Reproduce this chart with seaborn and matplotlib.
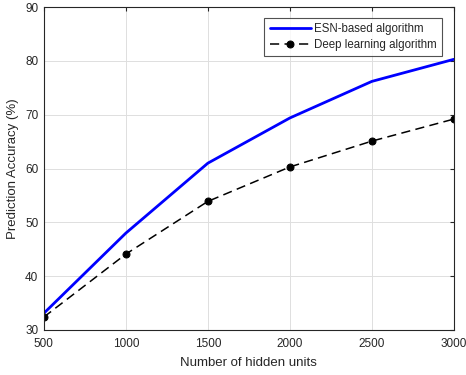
import matplotlib
matplotlib.use("Agg")
import matplotlib.pyplot as plt
import seaborn as sns
import pandas as pd

hidden_units = [500, 1000, 1500, 2000, 2500, 3000]
esn_acc = [33.1, 48.0, 61.0, 69.4, 76.2, 80.3]
deep_acc = [32.4, 44.1, 53.9, 60.3, 65.1, 69.2]

sns.set_style("white")
plt.rcParams['font.family'] = ['Liberation Sans', 'DejaVu Sans']

df = pd.DataFrame({"units": hidden_units, "esn": esn_acc, "deep": deep_acc})

fig = plt.figure(figsize=(4.66, 3.75), dpi=100)
ax = fig.add_axes([0.094, 0.12, 0.88, 0.861])

sns.lineplot(data=df, x="units", y="esn", ax=ax, color="#0000ff", linewidth=2,
             label="ESN-based algorithm")
sns.lineplot(data=df, x="units", y="deep", ax=ax, color="black", linewidth=1.1,
             linestyle=(0, (6, 3.5)), marker="o", markersize=5, markeredgecolor="black",
             label="Deep learning algorithm")

ax.set_xlim(500, 3000)
ax.set_ylim(30, 90)
ax.set_xticks(hidden_units)
ax.set_yticks([30, 40, 50, 60, 70, 80, 90])
ax.grid(True, color="#dedede", linewidth=0.7)
ax.tick_params(direction="in", length=3, labelsize=8.5, colors="#262626", top=True, right=True)
ax.tick_params(axis="x", pad=6)
ax.tick_params(axis="y", pad=4)
for s in ax.spines.values():
    s.set_color("#262626")
    s.set_linewidth(0.8)
ax.set_xlabel("Number of hidden units", fontsize=9.5, color="#262626", labelpad=5)
ax.set_ylabel("Prediction Accuracy (%)", fontsize=9.5, color="#262626")

leg = ax.legend(loc="upper right", bbox_to_anchor=(0.972, 0.967), fontsize=8.3, frameon=True,
                fancybox=False, edgecolor="#262626", handlelength=3.6, borderpad=0.45,
                labelspacing=0.35, handletextpad=0.3, borderaxespad=0)
leg.get_frame().set_linewidth(0.8)

fig.savefig("out.png", dpi=100)
